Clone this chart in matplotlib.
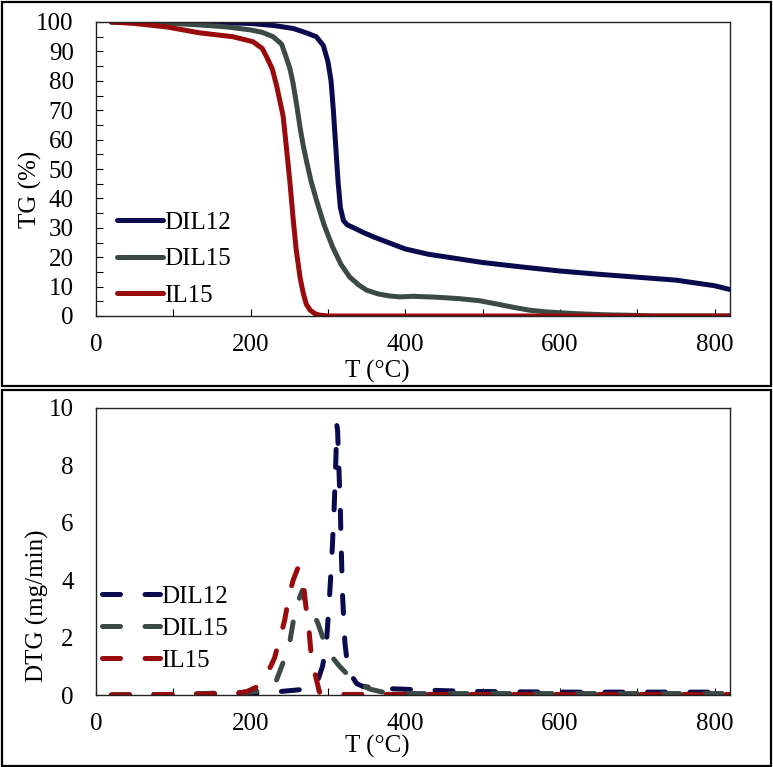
import matplotlib.pyplot as plt
from matplotlib.patches import Rectangle

plt.rcParams["font.family"] = ["Liberation Serif", "DejaVu Serif"]
plt.rcParams["font.size"] = 18

# TG curves (%)
t_dil12 = [20, 60, 100, 150, 200, 230, 255, 270, 285, 294, 300, 304, 307, 310, 313,
           316, 320, 325, 335, 345, 360, 380, 400, 430, 460, 500, 550, 600, 650, 700,
           750, 800, 820]
tg_dil12 = [100, 100, 100, 99.8, 99.5, 98.8, 97.8, 96.5, 95, 92, 86.5, 80, 70, 58, 46,
            37, 32.5, 31, 29.8, 28.5, 26.8, 24.8, 22.8, 21, 19.8, 18.2, 16.7, 15.3,
            14.2, 13.2, 12.2, 10.3, 9]

t_dil15 = [20, 60, 100, 134, 170, 200, 215, 229, 240, 246, 251, 255, 260, 264, 268,
           272, 278, 285, 295, 306, 317, 328, 340, 350, 365, 380, 393, 410, 440, 470,
           496, 520, 539, 560, 582, 620, 660, 700, 720, 820]
tg_dil15 = [100, 99.8, 99.5, 99, 98.3, 97.3, 96.5, 95, 92.5, 88, 84, 79, 71, 64, 58,
            53, 46, 39.5, 31, 23.5, 17.5, 13.3, 10.5, 8.8, 7.5, 6.8, 6.5, 6.7, 6.4, 5.9,
            5.2, 4, 3, 2, 1.4, 0.8, 0.4, 0.2, 0, 0]

t_il15 = [20, 50, 92, 134, 177, 203, 215, 221, 228, 233, 238, 242, 246, 251, 255, 259,
          264, 268, 272, 277, 283, 289, 300, 820]
tg_il15 = [100, 99.5, 98.3, 96.3, 95, 93.3, 91, 88, 84, 79, 73, 68, 58, 45, 33, 22.4,
           13, 7.8, 4, 2, 0.8, 0.3, 0, 0]

# DTG curves (mg/min)
d_t_dil12 = [20, 100, 200, 230, 250, 270, 283, 288, 293, 298, 302, 305, 308, 310, 311.5,
             312.5, 314, 316, 317.5, 319, 322, 326, 337, 345, 360, 380, 400, 450, 500,
             600, 700, 800, 820]
dtg_dil12 = [0, 0.02, 0.05, 0.1, 0.15, 0.2, 0.3, 0.6, 1.0, 1.8, 3.4, 4.8, 6.5, 8, 9.4,
             9.2, 8, 6.5, 4.8, 3.4, 1.8, 0.87, 0.4, 0.3, 0.25, 0.22, 0.2, 0.15, 0.12,
             0.1, 0.1, 0.1, 0.1]

d_t_dil15 = [20, 100, 200, 215, 225, 231, 235, 243, 247, 251, 256, 262, 267, 271, 276,
             281, 287, 296, 306, 315, 324, 339, 355, 371, 400, 500, 600, 700, 820]
dtg_dil15 = [0, 0.02, 0.1, 0.15, 0.25, 0.35, 0.63, 1.2, 1.5, 1.9, 2.7, 3.3, 3.65, 3.2,
             3.0, 2.85, 2.5, 1.8, 1.3, 1.0, 0.75, 0.4, 0.2, 0.1, 0.05, 0.05, 0.05,
             0.05, 0.05]

d_t_il15 = [20, 100, 180, 195, 208, 218, 226, 231, 238, 244, 250, 255, 261, 265, 269,
            272, 275, 278, 283, 289, 300, 820]
dtg_il15 = [0, 0.02, 0.05, 0.12, 0.28, 0.63, 1.0, 1.3, 2.0, 2.6, 3.5, 4.0, 4.42, 4.3,
            3.7, 2.96, 2.4, 1.5, 0.77, 0.1, 0.02, 0.02]

labels = ["DIL12", "DIL15", "IL15"]
colors = ["#0a0a4e", "#3b4a47", "#980a0c"]

W, H = 773, 767
fig = plt.figure(figsize=(W / 100, H / 100), dpi=100)

# panel frames
for y0, y1 in [(2, 386), (390, 766)]:
    fig.patches.append(Rectangle((2 / W, 1 - y1 / H), 769 / W, (y1 - y0) / H,
                                 transform=fig.transFigure, fill=False,
                                 edgecolor="black", linewidth=1.6))

ax1 = fig.add_axes([96 / W, 1 - 316 / H, 634 / W, 294 / H])
ax2 = fig.add_axes([96 / W, 1 - 695 / H, 634 / W, 287 / H])

lw = 3.6
tg = [(t_dil12, tg_dil12), (t_dil15, tg_dil15), (t_il15, tg_il15)]
for (x, y), c, lab in zip(tg, colors, labels):
    ax1.plot(x, y, color=c, lw=lw, label=lab, solid_capstyle="round",
             solid_joinstyle="round")

dtg = [(d_t_dil12, dtg_dil12), (d_t_dil15, dtg_dil15), (d_t_il15, dtg_il15)]
for (x, y), c, lab in zip(dtg, colors, labels):
    ax2.plot(x, y, color=c, lw=lw, label=lab, linestyle=(0, (3.6, 4.9)),
             dash_capstyle="round", dash_joinstyle="round")

for ax in (ax1, ax2):
    ax.set_xlim(0, 820)
    ax.set_xticks([0, 200, 400, 600, 800])
    ax.set_xticks(range(100, 801, 200), minor=True)
    ax.tick_params(axis="x", which="both", direction="in", length=5, pad=13,
                   width=0.8)
    for s in ax.spines.values():
        s.set_linewidth(1.0)
        s.set_color("#222222")
    ax.set_xlabel("T (°C)")

ax1.set_ylim(0, 100)
ax1.set_yticks(range(0, 101, 10))
ax1.set_yticks(range(5, 100, 10), minor=True)
ax1.tick_params(axis="y", which="both", direction="in", length=5, pad=16, width=0.8)
ax1.set_ylabel("TG (%)")
ax1.xaxis.set_label_coords(0.443, -0.148)
ax1.yaxis.set_label_coords(-0.085, 0.43)

ax2.set_ylim(0, 10)
ax2.set_yticks(range(0, 11, 2))
ax2.tick_params(axis="y", direction="in", length=0, pad=16)
ax2.set_ylabel("DTG (mg/min)")
ax2.xaxis.set_label_coords(0.443, -0.14)
ax2.yaxis.set_label_coords(-0.074, 0.31)

ax1.legend(loc="upper left", bbox_to_anchor=(0.033, 0.355), frameon=False,
           borderpad=0, borderaxespad=0, handlelength=1.84, handletextpad=0.05,
           labelspacing=0.55)
ax2.legend(loc="upper left", bbox_to_anchor=(0.01, 0.383), frameon=False,
           borderpad=0, borderaxespad=0, handlelength=2.32, handletextpad=0.05,
           labelspacing=0.39)

fig.savefig("out.png", dpi=100)
